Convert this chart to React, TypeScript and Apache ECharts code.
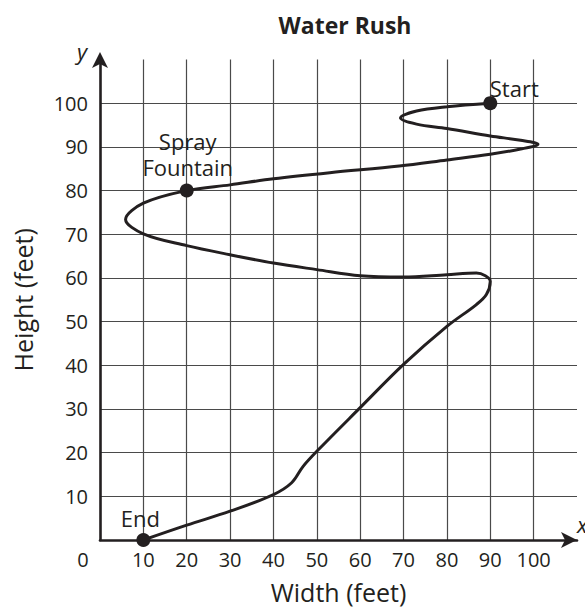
import React, { useEffect, useRef } from "react";
import * as echarts from "echarts";

const titleText = "Water Rush";
const xAxisName = "Width (feet)";
const yAxisName = "Height (feet)";

// Path of the water slide, from Start to End (width ft, height ft)
const pathX = [90, 80, 73, 69.3, 73, 80, 90, 97, 101, 97, 90, 80, 69, 53, 40, 30, 20, 10, 5.9, 10, 20, 30, 40, 50, 60, 70, 80, 86.8, 90, 89.1, 86.8, 80, 70, 60, 50, 46.8, 44.2, 40, 30, 20, 10];
const pathY = [100, 99.2, 98.2, 96.6, 95.2, 94.2, 92.5, 91.5, 90.6, 89.5, 88.3, 87, 85.6, 84.1, 82.7, 81.3, 80, 77.1, 73.4, 70.1, 67.4, 65.3, 63.4, 61.9, 60.5, 60.2, 60.75, 61.1, 59.2, 56.2, 53.9, 48.9, 40.2, 30.3, 20.3, 16.8, 13.1, 10.4, 6.6, 3.4, 0];

// Marked points
const pointNames = ["Start", "Spray\nFountain", "End"];
const pointX = [90, 20, 10];
const pointY = [100, 80, 0];

const axisMin = 0;
const axisMax = 110;
const axisStep = 10;

const INK = "#231f20";
const FONT = "Open Sans";

export default function App() {
  const ref = useRef<HTMLDivElement>(null);

  useEffect(() => {
    if (!ref.current) return;
    const chart = echarts.init(ref.current, null, { renderer: "svg" });

    const labelOffsets: Record<string, number[]> = {
      Start: [24, -15],
      "Spray\nFountain": [1, -37],
      End: [-3, -22],
    };

    const option: any = {
      animation: false,
      backgroundColor: "#ffffff",
      title: {
        text: titleText,
        left: 340,
        top: 8,
        textAlign: "center",
        textStyle: { fontFamily: FONT, fontWeight: "bold", fontSize: 23, color: INK },
      },
      grid: { left: 100, top: 59.5, width: 477, height: 481 },
      xAxis: {
        type: "value",
        min: axisMin,
        max: axisMax,
        interval: axisStep,
        name: xAxisName,
        nameLocation: "middle",
        nameGap: 39,
        nameTextStyle: { fontFamily: FONT, fontSize: 25, color: INK },
        axisLine: {
          show: true,
          onZero: false,
          symbol: ["none", "arrow"],
          symbolSize: [12, 16],
          symbolOffset: [0, 0],
          lineStyle: { color: INK, width: 2.6 },
        },
        axisTick: { show: false },
        axisLabel: {
          show: true,
          showMaxLabel: false,
          margin: 9,
          fontFamily: FONT,
          fontSize: 20,
          color: INK,
          formatter: (v: number) => (v === 0 ? "{z|0}" : String(v)),
          rich: { z: { fontFamily: FONT, fontSize: 20, color: INK, padding: [0, 34, 0, 0] } },
        },
        splitLine: {
          show: true,
          showMinLine: false,
          showMaxLine: false,
          lineStyle: { color: "#4a4a4a", width: 1.2 },
        },
      },
      yAxis: {
        type: "value",
        min: axisMin,
        max: axisMax,
        interval: axisStep,
        name: yAxisName,
        nameLocation: "middle",
        nameGap: 65,
        nameTextStyle: { fontFamily: FONT, fontSize: 25, color: INK },
        axisLine: {
          show: true,
          onZero: false,
          symbol: ["none", "arrow"],
          symbolSize: [12, 16],
          symbolOffset: [0, 7.5],
          lineStyle: { color: INK, width: 2.6 },
        },
        axisTick: { show: false },
        axisLabel: {
          show: true,
          showMinLabel: false,
          showMaxLabel: false,
          margin: 12,
          fontFamily: FONT,
          fontSize: 20,
          color: INK,
        },
        splitLine: {
          show: true,
          showMinLine: false,
          showMaxLine: false,
          lineStyle: { color: "#4a4a4a", width: 1.2 },
        },
      },
      graphic: [
        {
          type: "text",
          left: 77,
          top: 40,
          style: { text: "y", font: `italic 22px "${FONT}"`, fill: INK },
        },
        {
          type: "text",
          left: 577,
          top: 513,
          style: { text: "x", font: `italic 22px "${FONT}"`, fill: INK },
        },
      ],
      series: [
        {
          type: "line",
          data: pathX.map((x, i) => [x, pathY[i]]),
          smooth: 0.35,
          showSymbol: false,
          clip: false,
          lineStyle: { color: INK, width: 3 },
          z: 3,
        },
        {
          type: "scatter",
          data: pointX.map((x, i) => ({ name: pointNames[i], value: [x, pointY[i]] })),
          symbolSize: 14,
          itemStyle: { color: INK, opacity: 1 },
          z: 4,
          label: {
            show: true,
            position: "inside",
            formatter: (p: any) => p.name,
            fontFamily: FONT,
            fontSize: 22,
            lineHeight: 26,
            color: INK,
            opacity: 1,
            align: "center",
            verticalAlign: "middle",
          },
          labelLayout: (params: any) => {
            const off = labelOffsets[pointNames[params.dataIndex]] || [0, 0];
            const r = params.labelRect;
            return {
              x: r.x + r.width / 2 + off[0],
              y: r.y + r.height / 2 + off[1],
              align: "center",
              verticalAlign: "middle",
            };
          },
        },
      ],
    };

    chart.setOption(option);
    return () => chart.dispose();
  }, []);

  return (
    <div
      ref={ref}
      style={{ position: "fixed", left: 0, top: 0, width: 585, height: 609, background: "#fff" }}
    />
  );
}
